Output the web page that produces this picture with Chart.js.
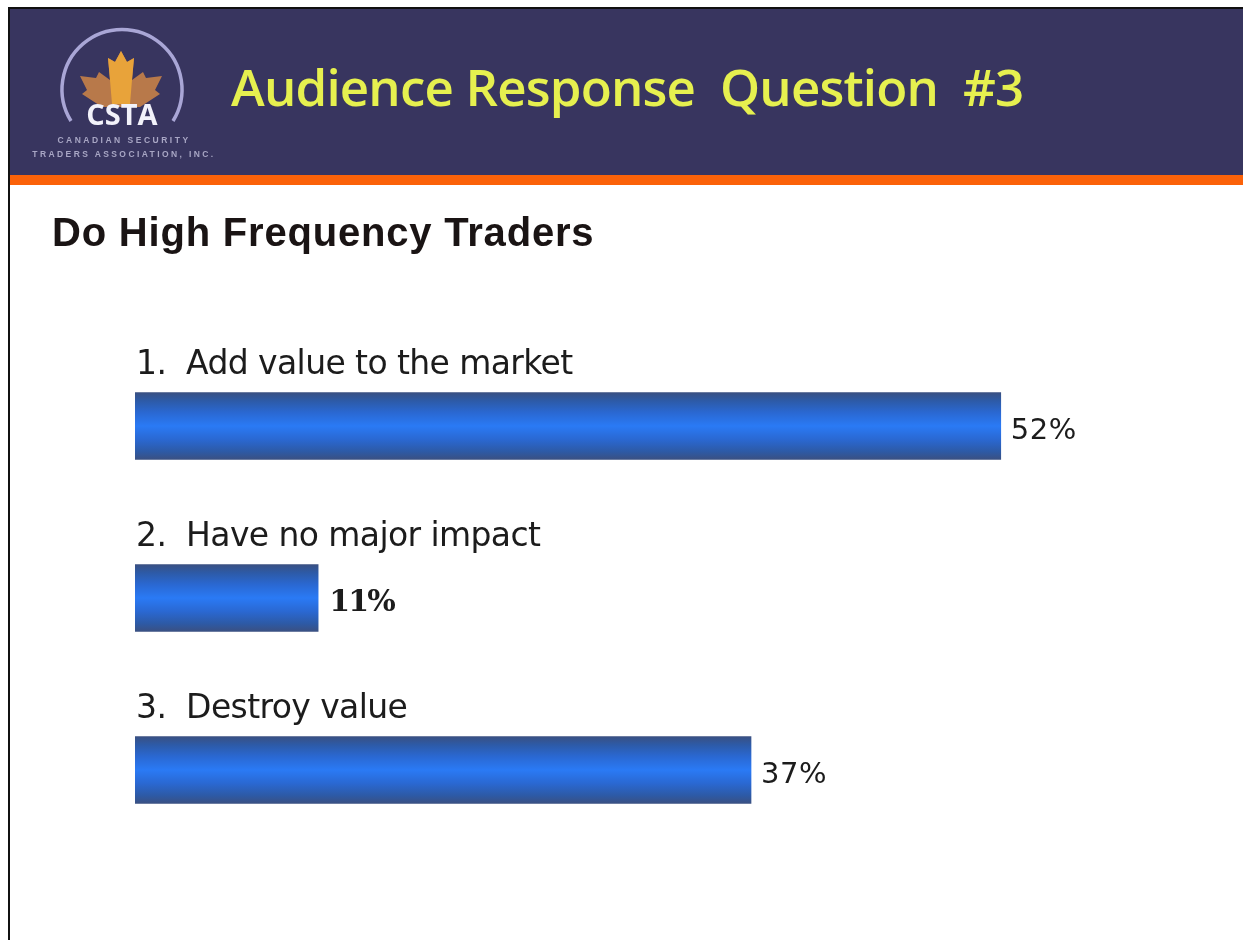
<!DOCTYPE html>
<html><head><meta charset="utf-8">
<script src="https://cdn.jsdelivr.net/npm/chart.js@4"></script>
<style>
html,body{margin:0;padding:0;background:#fff;overflow:hidden}
#page{position:relative;width:1243px;height:940px;overflow:hidden;background:#fff}
#frameTop{position:absolute;left:8px;top:7px;width:1235px;height:2px;background:#111}
#frameLeft{position:absolute;left:8px;top:7px;width:2px;height:933px;background:#111}
#head{position:absolute;left:10px;top:9px;width:1233px;height:166px;background:#38355f}
#rule{position:absolute;left:10px;top:175px;width:1233px;height:10px;background:#fb6209}
#title{position:absolute;left:231px;top:51px;font:600 51px "Open Sans",sans-serif;color:#e6f04f;white-space:pre;letter-spacing:-.82px;filter:blur(.5px)}
#sub{position:absolute;left:52px;top:210px;font:700 40px "Liberation Sans",sans-serif;color:#1a1414;white-space:pre;letter-spacing:.8px;filter:blur(.4px)}
#logo{position:absolute;left:10px;top:9px;filter:blur(.6px)}
canvas{position:absolute;left:0;top:0}
</style></head><body>
<div id="page">
<canvas id="c" width="1243" height="940"></canvas>
<div id="head"></div><div id="rule"></div>
<div id="frameTop"></div><div id="frameLeft"></div>
<svg id="logo" width="220" height="166" viewBox="10 9 220 166">
<path d="M74 121 A60 60 0 1 1 176 121" fill="none" stroke="#a9a6d6" stroke-width="3.5" transform="translate(-3 0)"/>
<path d="M121 51 L127 62 L134 58 L132 80 L143 72 L146 78 L162 76 L155 90 L160 94 L140 107 L102 107 L82 94 L87 90 L80 76 L96 78 L99 72 L110 80 L108 58 L115 62 Z" fill="#b8794a"/>
<path d="M121 51 L127 62 L134 58 L132 80 L130 104 L112 104 L110 80 L108 58 L115 62 Z" fill="#e8a33a"/>
<text x="122" y="125" text-anchor="middle" font-family="Open Sans" font-weight="700" font-size="29" fill="#f2f2fa">CSTA</text>
<text x="124" y="143" text-anchor="middle" font-family="Liberation Sans" font-weight="700" font-size="8.5" letter-spacing="2.5" fill="#a8a6c4">CANADIAN SECURITY</text>
<text x="124" y="157" text-anchor="middle" font-family="Liberation Sans" font-weight="700" font-size="8.5" letter-spacing="2.4" fill="#a8a6c4">TRADERS ASSOCIATION, INC.</text>
</svg>
<div id="title">Audience Response  Question  #3</div>
<div id="sub">Do High Frequency Traders</div>
</div>
<script>
const categories = ["1.  Add value to the market", "2.  Have no major impact", "3.  Destroy value"];
const percentValues = [52, 11, 37];
const valueLabels = ["52%", "11%", "37%"];
const labelBold = [false, true, false];

const barThickness = 67;

function barFill(context) {
  const chart = context.chart;
  const scale = chart.scales.y;
  const mid = scale && context.dataIndex !== undefined ? scale.getPixelForValue(context.dataIndex) : NaN;
  if (!Number.isFinite(mid)) return "#2a6fe0";
  const g = chart.ctx.createLinearGradient(0, mid - barThickness / 2, 0, mid + barThickness / 2);
  g.addColorStop(0, "#3a5082");
  g.addColorStop(0.12, "#2d5aa6");
  g.addColorStop(0.3, "#2a68d2");
  g.addColorStop(0.5, "#2a7af5");
  g.addColorStop(0.7, "#2a68d2");
  g.addColorStop(0.88, "#2d5aa6");
  g.addColorStop(1, "#3a5082");
  return g;
}

const barText = {
  id: "barText",
  afterDatasetsDraw(chart) {
    const { ctx, scales } = chart;
    ctx.save();
    ctx.textBaseline = "alphabetic";
    categories.forEach((name, i) => {
      const mid = scales.y.getPixelForValue(i);
      const left = scales.x.getPixelForValue(0);
      ctx.fillStyle = "#1c1c1c";
      ctx.textAlign = "left";
      ctx.font = '400 33px "DejaVu Sans", sans-serif';
      ctx.letterSpacing = "-0.6px";
      ctx.fillText(name, left + 1, mid - 52);
      const end = scales.x.getPixelForValue(percentValues[i]);
      if (labelBold[i]) {
        ctx.font = '700 30px "DejaVu Serif", serif';
        ctx.letterSpacing = "-1.8px";
        ctx.fillText(valueLabels[i], end + 11, mid + 13);
      } else {
        ctx.font = '400 29px "DejaVu Sans", sans-serif';
        ctx.letterSpacing = "0.5px";
        ctx.fillText(valueLabels[i], end + 10, mid + 13);
      }
    });
    ctx.restore();
  }
};

new Chart(document.getElementById("c"), {
  type: "bar",
  data: {
    labels: categories,
    datasets: [{
      data: percentValues,
      backgroundColor: barFill,
      borderWidth: 0,
      barThickness: barThickness
    }]
  },
  options: {
    indexAxis: "y",
    responsive: false,
    animation: false,
    layout: { padding: { left: 135, right: 0, top: 340, bottom: 84 } },
    plugins: { legend: { display: false }, tooltip: { enabled: false } },
    scales: {
      x: { display: false, min: 0, max: 66.55 },
      y: { display: false }
    }
  },
  plugins: [barText]
});
</script>
</body></html>
